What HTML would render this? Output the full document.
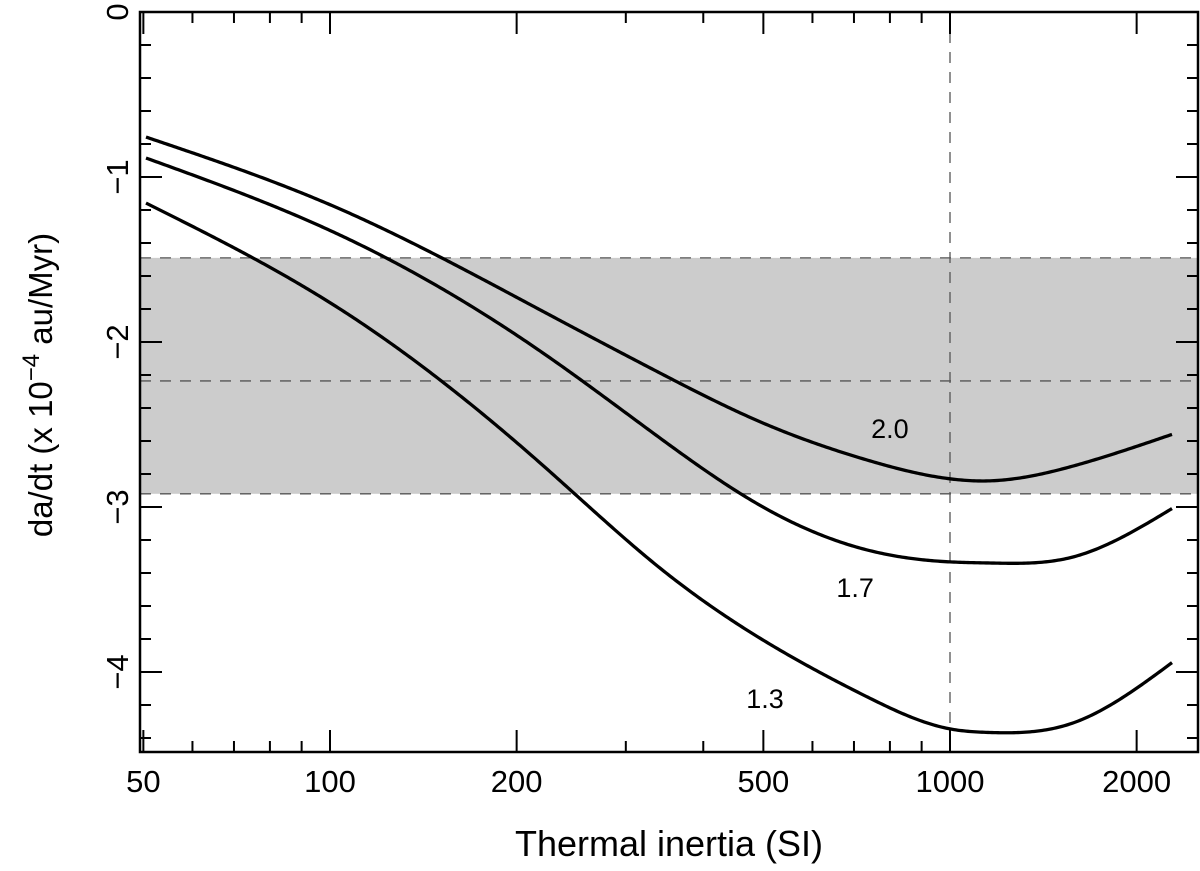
<!DOCTYPE html>
<html><head><meta charset="utf-8"><style>
html,body{margin:0;padding:0;background:#fff;}
svg text{font-family:"Liberation Sans",sans-serif;fill:#000;}
</style></head><body>
<svg id="chart" width="1200" height="866" viewBox="0 0 1200 866"></svg>
<script>
const xTickLabels=[50,100,200,500,1000,2000];
const xMinorTicks=[50,60,70,80,90,100,200,300,400,500,600,700,800,900,1000,2000];
const yTickLabels=[0,-1,-2,-3,-4];
const bandTop=-1.49, bandBottom=-2.92, bandMid=-2.236, vLineX=1000;
const xs=[50.5,103.8,223,340.6,499.3,734.6,1004,1147,1579,2289];
const s20=[-0.758,-1.194,-1.824,-2.188,-2.491,-2.715,-2.830,-2.842,-2.752,-2.558];
const s17=[-0.885,-1.352,-2.079,-2.582,-3.000,-3.260,-3.333,-3.339,-3.303,-3.006];
const s13=[-1.158,-1.800,-2.764,-3.370,-3.806,-4.150,-4.346,-4.366,-4.309,-3.939];
const seriesLabels=["2.0","1.7","1.3"];
const labelPos=[[800,-2.582],[703,-3.545],[503,-4.218]];

const L=140,R=1198,T=12,B=752;
const X=v=>950+620*(Math.log10(v)-3);
const Y=v=>T-165*v;
const svg=document.getElementById('chart');
const NS='http://www.w3.org/2000/svg';
function mk(tag,attrs){const e=document.createElementNS(NS,tag);for(const k in attrs)e.setAttribute(k,attrs[k]);svg.appendChild(e);return e;}

let band=mk('rect',{x:L,y:Y(bandTop),width:R-L,height:Y(bandBottom)-Y(bandTop),fill:'#cccccc'});


[[bandTop,'band-top-line'],[bandMid,'band-mid-line'],[bandBottom,'band-bottom-line']].forEach(([v,n])=>{
  let l=mk('line',{x1:L,x2:R,y1:Y(v),y2:Y(v),stroke:'#555','stroke-width':1.3,'stroke-dasharray':'11,9'});
  
  
});
let vl=mk('line',{x1:X(vLineX),x2:X(vLineX),y1:T,y2:B,stroke:'#555','stroke-width':1.3,'stroke-dasharray':'11,9'});



function spline(px,py){
  const n=px.length,h=[],al=[],l=[1],mu=[0],z=[0],c=new Array(n).fill(0),b=[],d=[];
  for(let i=0;i<n-1;i++)h.push(px[i+1]-px[i]);
  for(let i=1;i<n-1;i++)al[i]=3/h[i]*(py[i+1]-py[i])-3/h[i-1]*(py[i]-py[i-1]);
  for(let i=1;i<n-1;i++){l[i]=2*(px[i+1]-px[i-1])-h[i-1]*mu[i-1];mu[i]=h[i]/l[i];z[i]=(al[i]-h[i-1]*z[i-1])/l[i];}
  for(let j=n-2;j>=0;j--){c[j]=(j>0?z[j]:0)-mu[j]*c[j+1];if(j===0)c[0]=0;b[j]=(py[j+1]-py[j])/h[j]-h[j]*(c[j+1]+2*c[j])/3;d[j]=(c[j+1]-c[j])/(3*h[j]);}
  return x=>{let i=0;while(i<n-2&&x>px[i+1])i++;const t=x-px[i];return py[i]+b[i]*t+c[i]*t*t+d[i]*t*t*t;};
}
function curve(vals){
  const px=xs.map(X),py=vals.map(Y),f=spline(px,py);
  let d='';
  for(let x=px[0];x<=px[px.length-1]+0.01;x+=2){d+=(d?' L':'M')+x.toFixed(1)+','+f(x).toFixed(2);}
  return d;
}
[[s20,'curve-2-0'],[s17,'curve-1-7'],[s13,'curve-1-3']].forEach(([s,n])=>{
  let c=mk('path',{d:curve(s),fill:'none',stroke:'#000','stroke-width':3.3,'stroke-linejoin':'round'});
  
  
});
seriesLabels.forEach((t,i)=>{
  let e=mk('text',{x:X(labelPos[i][0]),y:Y(labelPos[i][1]),'font-size':27,'text-anchor':'middle'});
  e.textContent=t;
  
  
});
let fr=mk('rect',{x:L,y:T,width:R-L,height:B-T,fill:'none',stroke:'#000','stroke-width':2.5});


xMinorTicks.forEach(v=>{
  const major=xTickLabels.includes(v), len=major?22:11, x=X(v);
  let a=mk('line',{x1:x,x2:x,y1:B,y2:B-len,stroke:'#000','stroke-width':2});
  
  
  let b=mk('line',{x1:x,x2:x,y1:T,y2:T+len,stroke:'#000','stroke-width':2});
  
  
});
xTickLabels.forEach(v=>{
  let t=mk('text',{x:X(v),y:792,'font-size':31,'text-anchor':'middle'});
  t.textContent=v;
  
  
});
for(let k=0;k>=-22;k--){
  const v=k/5, major=(k%5===0), len=major?22:11, y=Y(v);
  if(y>B)break;
  let a=mk('line',{x1:L,x2:L+len,y1:y,y2:y,stroke:'#000','stroke-width':2});
  
  
  let b=mk('line',{x1:R,x2:R-len,y1:y,y2:y,stroke:'#000','stroke-width':2});
  
  
}
yTickLabels.forEach(v=>{
  let t=mk('text',{x:0,y:0,'font-size':31,'text-anchor':'middle',transform:`translate(128,${Y(v)}) rotate(-90)`});
  t.textContent=v===0?'0':'\u2212'+Math.abs(v);
  
  
});
let xt=mk('text',{x:669,y:856,'font-size':36,'text-anchor':'middle'});
xt.textContent='Thermal inertia (SI)';


let yt=mk('text',{x:0,y:0,'font-size':33,'text-anchor':'middle',transform:'translate(52,385) rotate(-90)'});
yt.innerHTML='da/dt (x 10<tspan dy="-13" font-size="24">\u22124</tspan><tspan dy="13"> au/Myr)</tspan>';


</script>
</body></html>
